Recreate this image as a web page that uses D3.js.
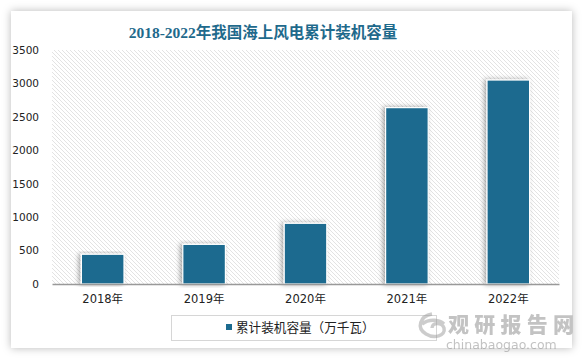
<!DOCTYPE html>
<html><head><meta charset="utf-8">
<script src="https://cdn.jsdelivr.net/npm/d3@7"></script>
<style>
html,body{margin:0;padding:0;background:#fff;overflow:hidden;}
svg{display:block;}
</style></head>
<body>
<svg id="chart" width="586" height="358"></svg>
<script>
const title = "2018-2022年我国海上风电累计装机容量";
const categories = ["2018年","2019年","2020年","2021年","2022年"];
const values = [445, 593, 908, 2638, 3051];
const yTicks = [0,500,1000,1500,2000,2500,3000,3500];
const seriesName = "累计装机容量（万千瓦）";

const svg = d3.select("#chart");
const defs = svg.append("defs");
const cardShadow = defs.append("filter").attr("id","cardShadow").attr("x","-10%").attr("y","-10%").attr("width","120%").attr("height","120%");
cardShadow.append("feDropShadow").attr("dx",0).attr("dy",0).attr("stdDeviation",4).attr("flood-color","#000").attr("flood-opacity",0.28);
const barShadow = defs.append("filter").attr("id","barShadow").attr("x","-30%").attr("y","-10%").attr("width","160%").attr("height","120%");
barShadow.append("feDropShadow").attr("dx",-2).attr("dy",0).attr("stdDeviation",2.5).attr("flood-color","#000").attr("flood-opacity",0.35);
const pat = defs.append("pattern").attr("id","hatch").attr("patternUnits","userSpaceOnUse")
  .attr("width",4).attr("height",4);
pat.append("path").attr("d","M-1,-1 L5,5 M-1,3 L1,5 M3,-1 L5,1").attr("stroke","#d4d4d4").attr("stroke-width",0.9).attr("stroke-dasharray","1,0.5");

// card
svg.append("rect").attr("x",11).attr("y",11).attr("width",561).attr("height",337)
  .attr("fill","#fff").attr("filter","url(#cardShadow)");

// title
svg.append("text").attr("x",263).attr("y",38).attr("text-anchor","middle")
  .attr("font-family","'Liberation Serif','Noto Sans CJK SC',serif").attr("font-weight","bold")
  .attr("font-size",15.5).attr("fill","#1f6a8c").text(title);

const m = {left:52, right:559, top:50, bottom:284};
const x = d3.scaleBand().domain(categories).range([m.left,m.right]).paddingInner(0.58).paddingOuter(0.29);
const y = d3.scaleLinear().domain([0,3500]).range([m.bottom,m.top]);

// plot background hatch
svg.append("rect").attr("x",m.left).attr("y",m.top).attr("width",m.right-m.left).attr("height",m.bottom-m.top)
  .attr("fill","url(#hatch)");

// y axis
const yAxis = svg.append("g").attr("transform",`translate(${m.left},0)`)
  .call(d3.axisLeft(y).tickValues(yTicks).tickFormat(d3.format("d")).tickSize(0).tickPadding(13));
yAxis.select(".domain").remove();
yAxis.selectAll("text").attr("font-family","'DejaVu Sans',sans-serif").attr("font-size",10.5).attr("fill","#222");

// bars
svg.append("g").selectAll("rect").data(values).join("rect")
  .attr("x",(d,i)=>x(categories[i])).attr("width",x.bandwidth())
  .attr("y",d=>y(d)).attr("height",d=>y(0)-y(d))
  .attr("fill","#1c6b8f").attr("stroke","#fff").attr("stroke-width",1.2)
  .attr("filter","url(#barShadow)");

// x axis
const xAxis = svg.append("g").attr("transform",`translate(0,${m.bottom})`)
  .call(d3.axisBottom(x).tickSize(0).tickPadding(11));
xAxis.select(".domain").attr("stroke","#999").attr("stroke-width",1.5);
xAxis.selectAll("text").attr("font-family","'DejaVu Sans','Noto Sans CJK SC',sans-serif").attr("font-size",11.5).attr("fill","#222");

// legend
svg.append("rect").attr("x",171.5).attr("y",315.5).attr("width",265).attr("height",25)
  .attr("fill","#fff").attr("stroke","#d6d6d6");
svg.append("rect").attr("x",226).attr("y",324).attr("width",6).attr("height",6).attr("fill","#1c6b8f");
svg.append("text").attr("x",236).attr("y",332).attr("font-family","'Noto Sans CJK SC',sans-serif")
  .attr("font-size",12.6).attr("fill","#222").text(seriesName);

// watermark
const wm = svg.append("g").attr("opacity",0.5);
wm.append("path").attr("d","M432,314 C420,316 416,328 426,334 C434,339 446,336 444,328 C442,322 432,322 432,328 M422,324 C430,318 440,320 444,324")
  .attr("fill","none").attr("stroke","#9a9a9a").attr("stroke-width",3.5);
wm.append("text").attr("x",448).attr("y",332).attr("font-family","'Noto Sans CJK SC',sans-serif").attr("font-weight","900")
  .attr("font-size",21).attr("textLength",126).attr("lengthAdjust","spacing").attr("fill","#888").text("观研报告网");
wm.append("text").attr("x",446).attr("y",349).attr("font-family","'DejaVu Sans',sans-serif")
  .attr("font-size",12.5).attr("fill","#888").text("chinabaogao.com");
</script>
</body></html>
